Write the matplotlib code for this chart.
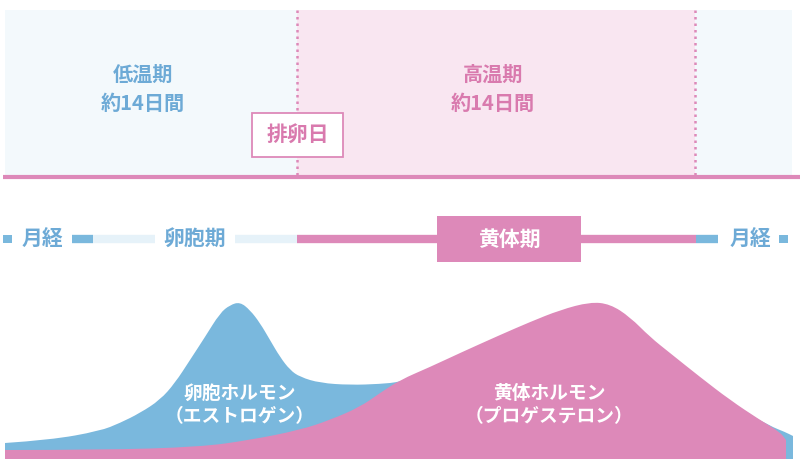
import matplotlib.pyplot as plt
from matplotlib.patches import Rectangle, PathPatch
from matplotlib.path import Path

plt.rcParams['font.family'] = ['Noto Sans CJK JP', 'DejaVu Sans']

# colours
BLUE = "#7ab8dd"
BLUE_TXT = "#6daad6"
BLUE_BG = "#f3f9fc"
BLUE_FADE = "#e6f2f9"
PINK = "#dd89b9"
PINK_TXT = "#d97aae"
PINK_BG = "#f9e6f1"

# phases (top panel)
phase_labels = ["低温期\n約14日間", "高温期\n約14日間"]
phase_edges = [5, 297, 695, 792]

# hormone curves: position along cycle, level above baseline
est_x = [5, 50, 100, 120, 140, 160, 175, 190, 205, 220, 230, 240, 250, 260,
         270, 280, 290, 300, 320, 350, 380, 400, 450, 500, 550, 600, 650,
         700, 740, 770, 785, 793]
est_lv = [16, 19, 28, 36, 46, 59, 76, 99, 122, 146, 154, 157, 149, 136,
          119, 102, 89, 82, 76, 74, 75, 77, 90, 110, 125, 130, 115,
          80, 50, 33, 27, 23]
prog_x = [5, 100, 200, 250, 300, 330, 360, 380, 400, 430, 460, 500, 530,
          560, 590, 610, 630, 650, 670, 700, 730, 760, 780, 786]
prog_lv = [9, 9, 12, 19, 29, 39, 52, 66, 79, 92, 106, 124, 137,
           149, 157, 155, 142, 122, 106, 82, 59, 39, 27, 19]

BASE = 459


def smooth_area(xs, ys, base):
    # closed area under a curve drawn with quadratic segments through midpoints
    verts = [(xs[0], base), (xs[0], ys[0])]
    codes = [Path.MOVETO, Path.LINETO]
    for i in range(1, len(xs) - 1):
        mx = (xs[i] + xs[i + 1]) / 2
        my = (ys[i] + ys[i + 1]) / 2
        verts += [(xs[i], ys[i]), (mx, my)]
        codes += [Path.CURVE3, Path.CURVE3]
    verts += [(xs[-1], ys[-1]), (xs[-1], base), (xs[0], base)]
    codes += [Path.LINETO, Path.LINETO, Path.CLOSEPOLY]
    return Path(verts, codes)


fig = plt.figure(figsize=(8, 4.68), dpi=100)
ax = fig.add_axes([0, 0, 1, 1])
ax.set_xlim(0, 800)
ax.set_ylim(468, 0)
ax.axis("off")

# top panel backgrounds
bgs = [BLUE_BG, PINK_BG, BLUE_BG]
for i in range(3):
    ax.add_patch(Rectangle((phase_edges[i], 10), phase_edges[i + 1] - phase_edges[i], 165,
                           facecolor=bgs[i], edgecolor="none", zorder=0))
for xv in phase_edges[1:3]:
    ax.plot([xv, xv], [10, 175], color=PINK, lw=1.8, ls=(0, (1, 1.6)), zorder=1)
ax.plot([3, 800], [177, 177], color=PINK, lw=3, solid_capstyle="butt", zorder=2)

centers = [143, 493]
tcols = [BLUE_TXT, PINK_TXT]
for c, lab, col in zip(centers, phase_labels, tcols):
    ax.text(c, 89, lab, ha="center", va="center", fontsize=14.5, fontweight="bold",
            color=col, linespacing=1.45, zorder=3)

# ovulation day box
ax.add_patch(Rectangle((252, 113), 91, 44, facecolor="white", edgecolor=PINK, lw=1.3, zorder=4))
ax.text(297.5, 135, "排卵日", ha="center", va="center", fontsize=15, fontweight="bold",
        color=PINK_TXT, zorder=5)

# cycle row
ROW = 239
ax.add_patch(Rectangle((3, ROW - 4), 9, 8, facecolor=BLUE, edgecolor="none"))
ax.text(42, ROW, "月経", ha="center", va="center", fontsize=15, fontweight="bold", color=BLUE_TXT)
ax.plot([72, 93], [ROW, ROW], color=BLUE, lw=6, solid_capstyle="butt")
ax.plot([93, 155], [ROW, ROW], color=BLUE_FADE, lw=6, solid_capstyle="butt")
ax.text(195, ROW, "卵胞期", ha="center", va="center", fontsize=15, fontweight="bold", color=BLUE_TXT)
ax.plot([235, 297], [ROW, ROW], color=BLUE_FADE, lw=6, solid_capstyle="butt")
ax.plot([297, 696], [ROW, ROW], color=PINK, lw=6, solid_capstyle="butt")
ax.add_patch(Rectangle((437, 216), 144, 46, facecolor=PINK, edgecolor="none", zorder=3))
ax.text(509, ROW, "黄体期", ha="center", va="center", fontsize=15, fontweight="bold",
        color="white", zorder=4)
ax.plot([696, 718], [ROW, ROW], color=BLUE, lw=6, solid_capstyle="butt")
ax.text(750, ROW, "月経", ha="center", va="center", fontsize=15, fontweight="bold", color=BLUE_TXT)
ax.add_patch(Rectangle((779, ROW - 4), 9, 8, facecolor=BLUE, edgecolor="none"))

# hormone curves
est_y = [BASE - v for v in est_lv]
prog_y = [BASE - v for v in prog_lv]
ax.add_patch(PathPatch(smooth_area(est_x, est_y, BASE), facecolor=BLUE, lw=0, zorder=5))
ax.add_patch(PathPatch(smooth_area(prog_x, prog_y, BASE), facecolor=PINK, lw=0, zorder=6))

ax.text(240, 405, "卵胞ホルモン\n（エストロゲン）", ha="center", va="center", fontsize=13.5,
        fontweight="bold", color="white", linespacing=1.3, zorder=7)
ax.text(549, 405, "黄体ホルモン\n（プロゲステロン）", ha="center", va="center", fontsize=13.5,
        fontweight="bold", color="white", linespacing=1.3, zorder=7)

fig.savefig("out.png", dpi=100)
